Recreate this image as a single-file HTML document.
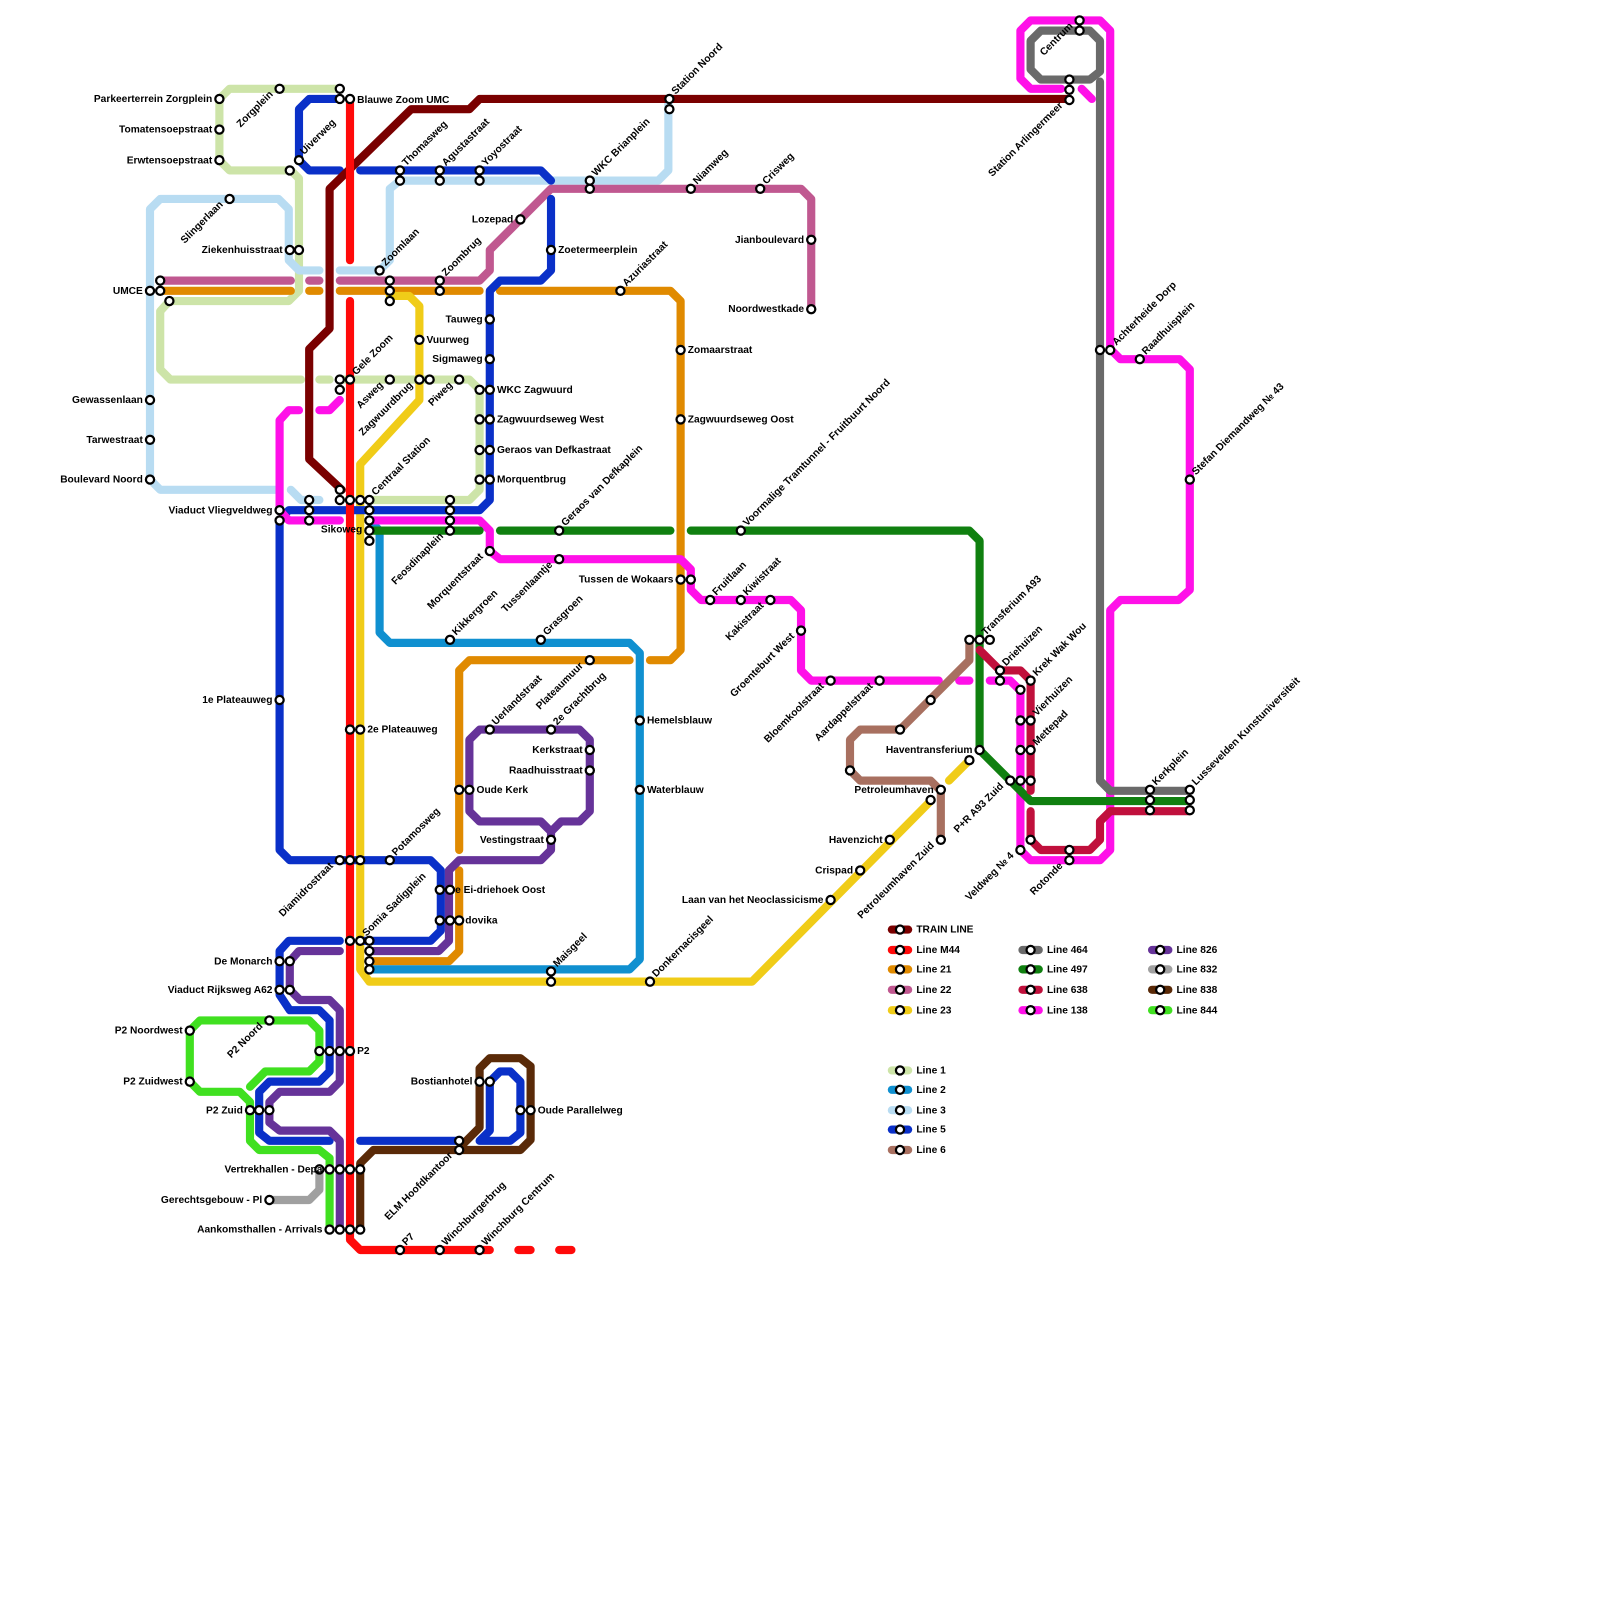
<!DOCTYPE html>
<html><head><meta charset="utf-8"><style>
html,body{margin:0;padding:0;background:#fff}
svg{display:block}
.l{fill:none;stroke-width:8;stroke-linejoin:round;stroke-linecap:round}
.s{fill:#fff;stroke:#000;stroke-width:2.2}
text{font-family:"Liberation Sans",sans-serif;font-size:10px;font-weight:bold;fill:#000}
.e{text-anchor:end}
</style></head><body>
<svg width="1600" height="1600" viewBox="0 0 1568 1568" xmlns="http://www.w3.org/2000/svg">
<!-- Line 1 light green -->
<g class="l" stroke="#cde4a8">
<polyline points="333,87 225,87 215,97 215,157 225,167 285,167 293,175 293,285 283,295 166,295 157,305 157,362 167,372 295,372"/>
<polyline points="313,372 323,372"/>
<polyline points="333,372 460,372 470,382 470,480 460,490 362,490"/>
</g>
<!-- Line 3 light blue -->
<g class="l" stroke="#b8dcf2">
<polyline points="147,470 147,205 157,195 273,195 283,205 283,255 293,265 313,265"/>
<polyline points="333,265 372,265 382,255 382,185 392,177 645,177 655,167 655,97"/>
<polyline points="147,470 157,480 273,480"/>
<polyline points="285,480 295,490 313,490"/>
</g>
<!-- Line 22 -->
<g class="l" stroke="#c05890">
<polyline points="160,275 285,275"/><polyline points="303,275 313,275"/>
<polyline points="333,275 470,275 480,265 480,245 540,185 785,185 795,195 795,303"/>
</g>
<!-- Line 21 orange -->
<g class="l" stroke="#e08a00">
<polyline points="160,285 285,285"/><polyline points="303,285 313,285"/>
<polyline points="333,285 470,285"/>
<polyline points="490,285 657,285 667,295 667,637 657,647 637,647"/>
<polyline points="617,647 460,647 450,657 450,833"/>
<polyline points="450,853 450,932 440,942 362,942"/>
</g>
<!-- Line 2 cyan -->
<polyline class="l" stroke="#1090d0" points="362,510 372,520 372,620 382,630 617,630 627,640 627,940 617,950 362,950"/>
<!-- Line 23 yellow -->
<g class="l" stroke="#f0cc18">
<polyline points="382,290 401,290 411,300 411,392 353,455 353,950 362,962 737,962 912,785"/>
<polyline points="930,765 950,745"/>
</g>
<!-- Line 5 blue -->
<g class="l" stroke="#0a30c8">
<polyline points="333,97 303,97 293,107 293,157 303,167 333,167"/>
<polyline points="353,167 530,167 540,177"/>
<polyline points="540,195 540,265 530,275 490,275 480,285 480,490 470,500 283,500 274,510 274,833 284,843 422,843 432,853 432,912 422,922 353,922"/>
<polyline points="333,922 283,922 274,932 274,975 284,990 313,990 323,1000 323,1050 313,1060 264,1060 254,1070 254,1110 264,1118 323,1118"/>
<polyline points="353,1118 450,1118"/>
<polyline points="470,1118 480,1108 480,1060 490,1050 500,1050 510,1060 510,1110 500,1118 470,1118"/>
</g>
<!-- Line 138 magenta -->
<g class="l" stroke="#ff10e8">
<polyline points="333,392 323,402 313,402"/>
<polyline points="293,402 283,402 274,412 274,500 283,510 333,510"/>
<polyline points="362,510 470,510 480,520 480,540 490,548 667,548 677,558 677,578 687,588 775,588 785,598 785,657 795,667 920,667"/>
<polyline points="940,667 950,667"/>
<polyline points="970,667 990,667 1000,677 1000,833 1010,843 1078,843 1088,833 1088,598 1098,588 1155,588 1166,578 1166,362 1156,352 1098,352 1088,342 1088,30 1078,20 1010,20 1000,30 1000,77 1010,87 1040,87"/>
<polyline points="1060,87 1070,97"/>
</g>
<!-- Line 464 gray -->
<g class="l" stroke="#6a6a6a">
<polyline points="1078,80 1078,765 1088,775 1166,775"/>
<polyline points="1020,30 1068,30 1078,40 1078,70 1068,78 1020,78 1010,68 1010,40 1020,30"/>
</g>
<!-- Line 497 green -->
<g class="l" stroke="#108010">
<polyline points="362,520 470,520"/><polyline points="490,520 657,520"/>
<polyline points="677,520 950,520 960,530 960,735 1010,785 1166,785"/>
</g>
<!-- Line 638 crimson -->
<g class="l" stroke="#c0103c">
<polyline points="960,637 980,657 1000,657 1010,667 1010,775"/>
<polyline points="1010,795 1010,823 1020,833 1068,833 1078,823 1078,805 1088,795 1166,795"/>
</g>
<!-- Line 6 -->
<polyline class="l" stroke="#a87060" points="950,627 950,647 882,715 843,715 833,725 833,755 843,765 912,765 922,775 922,823"/>
<!-- Line 826 purple -->
<g class="l" stroke="#663399">
<polyline points="470,715 568,715 578,725 578,795 568,805 550,805 540,815 530,805 470,805 460,795 460,725 470,715"/>
<polyline points="540,815 540,833 530,843 450,843 440,853 440,922 430,932 362,932"/>
<polyline points="333,932 293,932 284,942 284,970 294,980 323,980 333,990 333,1060 323,1070 274,1070 264,1080 264,1100 274,1108 323,1108 333,1118 333,1205"/>
</g>
<!-- Line 844 -->
<polyline class="l" stroke="#40e020" points="323,1205 323,1135 313,1127 254,1127 245,1118 245,1080 235,1070 196,1070 186,1060 186,1010 196,1000 303,1000 313,1010 313,1040 303,1050 260,1050 245,1065"/>
<!-- Line 832 -->
<polyline class="l" stroke="#a0a0a0" points="264,1176 303,1176 313,1166 313,1146"/>
<!-- Line 838 -->
<polyline class="l" stroke="#5a2a08" points="353,1205 353,1140 366,1127 510,1127 520,1117 520,1045 510,1037 480,1037 470,1047 470,1105 455,1120"/>
<!-- Train -->
<polyline class="l" stroke="#7a0000" points="335,480 303,450 303,342 323,322 323,185 403,107 460,107 470,97 1048,97"/>
<!-- M44 red -->
<g class="l" stroke="#ff0a0a">
<polyline points="343,97 343,255"/>
<polyline points="343,295 343,1215 353,1225 480,1225"/>
<polyline points="508,1225 520,1225"/><polyline points="548,1225 560,1225"/>
</g>

<!-- Stations -->
<g class="s">
<circle cx="215" cy="97" r="4"/><circle cx="215" cy="127" r="4"/><circle cx="215" cy="157" r="4"/><circle cx="274" cy="87" r="4"/>
<circle cx="333" cy="87" r="4"/><circle cx="333" cy="97" r="4"/><circle cx="343" cy="97" r="4"/><circle cx="293" cy="157" r="4"/><circle cx="284" cy="167" r="4"/>
<circle cx="225" cy="195" r="4"/><circle cx="284" cy="245" r="4"/><circle cx="293" cy="245" r="4"/>
<circle cx="147" cy="285" r="4"/><circle cx="157" cy="275" r="4"/><circle cx="157" cy="285" r="4"/><circle cx="166" cy="295" r="4"/>
<circle cx="392" cy="167" r="4"/><circle cx="392" cy="177" r="4"/><circle cx="431" cy="167" r="4"/><circle cx="431" cy="177" r="4"/>
<circle cx="470" cy="167" r="4"/><circle cx="470" cy="177" r="4"/><circle cx="578" cy="177" r="4"/><circle cx="578" cy="185" r="4"/>
<circle cx="656" cy="97" r="4"/><circle cx="656" cy="107" r="4"/><circle cx="677" cy="185" r="4"/><circle cx="745" cy="185" r="4"/>
<circle cx="510" cy="215" r="4"/><circle cx="540" cy="245" r="4"/><circle cx="795" cy="235" r="4"/><circle cx="795" cy="303" r="4"/>
<circle cx="372" cy="265" r="4"/><circle cx="382" cy="275" r="4"/><circle cx="382" cy="285" r="4"/><circle cx="382" cy="295" r="4"/>
<circle cx="431" cy="275" r="4"/><circle cx="431" cy="285" r="4"/><circle cx="608" cy="285" r="4"/>
<circle cx="480" cy="313" r="4"/><circle cx="480" cy="352" r="4"/>
<circle cx="470" cy="382" r="4"/><circle cx="480" cy="382" r="4"/><circle cx="470" cy="411" r="4"/><circle cx="480" cy="411" r="4"/>
<circle cx="470" cy="441" r="4"/><circle cx="480" cy="441" r="4"/><circle cx="470" cy="470" r="4"/><circle cx="480" cy="470" r="4"/>
<circle cx="411" cy="333" r="4"/><circle cx="333" cy="372" r="4"/><circle cx="333" cy="382" r="4"/><circle cx="343" cy="372" r="4"/>
<circle cx="382" cy="372" r="4"/><circle cx="411" cy="372" r="4"/><circle cx="421" cy="372" r="4"/><circle cx="450" cy="372" r="4"/>
<circle cx="147" cy="392" r="4"/><circle cx="147" cy="431" r="4"/><circle cx="147" cy="470" r="4"/>
<circle cx="667" cy="343" r="4"/><circle cx="667" cy="411" r="4"/>
<circle cx="274" cy="500" r="4"/><circle cx="274" cy="510" r="4"/><circle cx="303" cy="490" r="4"/><circle cx="303" cy="500" r="4"/><circle cx="303" cy="510" r="4"/>
<circle cx="333" cy="480" r="4"/><circle cx="333" cy="490" r="4"/><circle cx="343" cy="490" r="4"/><circle cx="353" cy="490" r="4"/>
<circle cx="362" cy="490" r="4"/><circle cx="362" cy="500" r="4"/><circle cx="362" cy="510" r="4"/><circle cx="362" cy="520" r="4"/><circle cx="362" cy="530" r="4"/>
<circle cx="441" cy="490" r="4"/><circle cx="441" cy="500" r="4"/><circle cx="441" cy="510" r="4"/><circle cx="441" cy="520" r="4"/>
<circle cx="480" cy="540" r="4"/><circle cx="548" cy="520" r="4"/><circle cx="548" cy="548" r="4"/>
<circle cx="667" cy="568" r="4"/><circle cx="677" cy="568" r="4"/><circle cx="696" cy="588" r="4"/><circle cx="726" cy="588" r="4"/><circle cx="755" cy="588" r="4"/>
<circle cx="726" cy="520" r="4"/><circle cx="785" cy="618" r="4"/>
<circle cx="441" cy="627" r="4"/><circle cx="530" cy="627" r="4"/><circle cx="578" cy="647" r="4"/>
<circle cx="480" cy="715" r="4"/><circle cx="540" cy="715" r="4"/><circle cx="578" cy="735" r="4"/><circle cx="578" cy="755" r="4"/>
<circle cx="450" cy="774" r="4"/><circle cx="460" cy="774" r="4"/><circle cx="540" cy="823" r="4"/>
<circle cx="627" cy="706" r="4"/><circle cx="627" cy="774" r="4"/>
<circle cx="274" cy="686" r="4"/><circle cx="343" cy="715" r="4"/><circle cx="353" cy="715" r="4"/>
<circle cx="333" cy="843" r="4"/><circle cx="343" cy="843" r="4"/><circle cx="353" cy="843" r="4"/><circle cx="382" cy="843" r="4"/>
<circle cx="431" cy="872" r="4"/><circle cx="441" cy="872" r="4"/><circle cx="431" cy="902" r="4"/><circle cx="441" cy="902" r="4"/><circle cx="450" cy="902" r="4"/>
<circle cx="343" cy="922" r="4"/><circle cx="353" cy="922" r="4"/><circle cx="362" cy="922" r="4"/><circle cx="362" cy="932" r="4"/><circle cx="362" cy="942" r="4"/><circle cx="362" cy="950" r="4"/>
<circle cx="274" cy="942" r="4"/><circle cx="284" cy="942" r="4"/><circle cx="274" cy="970" r="4"/><circle cx="284" cy="970" r="4"/>
<circle cx="540" cy="952" r="4"/><circle cx="540" cy="962" r="4"/><circle cx="637" cy="962" r="4"/>
<circle cx="186" cy="1010" r="4"/><circle cx="264" cy="1000" r="4"/><circle cx="186" cy="1060" r="4"/>
<circle cx="313" cy="1030" r="4"/><circle cx="323" cy="1030" r="4"/><circle cx="333" cy="1030" r="4"/><circle cx="343" cy="1030" r="4"/>
<circle cx="245" cy="1088" r="4"/><circle cx="254" cy="1088" r="4"/><circle cx="264" cy="1088" r="4"/>
<circle cx="470" cy="1060" r="4"/><circle cx="480" cy="1060" r="4"/><circle cx="510" cy="1088" r="4"/><circle cx="520" cy="1088" r="4"/>
<circle cx="450" cy="1118" r="4"/><circle cx="450" cy="1127" r="4"/>
<circle cx="313" cy="1146" r="4"/><circle cx="323" cy="1146" r="4"/><circle cx="333" cy="1146" r="4"/><circle cx="343" cy="1146" r="4"/><circle cx="353" cy="1146" r="4"/>
<circle cx="264" cy="1176" r="4"/>
<circle cx="323" cy="1205" r="4"/><circle cx="333" cy="1205" r="4"/><circle cx="343" cy="1205" r="4"/><circle cx="353" cy="1205" r="4"/>
<circle cx="392" cy="1225" r="4"/><circle cx="431" cy="1225" r="4"/><circle cx="470" cy="1225" r="4"/>
<circle cx="814" cy="667" r="4"/><circle cx="862" cy="667" r="4"/><circle cx="912" cy="686" r="4"/><circle cx="882" cy="715" r="4"/><circle cx="833" cy="755" r="4"/>
<circle cx="950" cy="627" r="4"/><circle cx="960" cy="627" r="4"/><circle cx="970" cy="627" r="4"/>
<circle cx="980" cy="657" r="4"/><circle cx="980" cy="667" r="4"/><circle cx="1010" cy="667" r="4"/><circle cx="1000" cy="676" r="4"/>
<circle cx="1000" cy="706" r="4"/><circle cx="1010" cy="706" r="4"/><circle cx="1000" cy="735" r="4"/><circle cx="1010" cy="735" r="4"/>
<circle cx="990" cy="765" r="4"/><circle cx="1000" cy="765" r="4"/><circle cx="1010" cy="765" r="4"/>
<circle cx="1000" cy="833" r="4"/><circle cx="1010" cy="823" r="4"/><circle cx="1048" cy="833" r="4"/><circle cx="1048" cy="843" r="4"/>
<circle cx="960" cy="735" r="4"/><circle cx="950" cy="745" r="4"/><circle cx="922" cy="774" r="4"/><circle cx="912" cy="784" r="4"/><circle cx="922" cy="823" r="4"/>
<circle cx="872" cy="823" r="4"/><circle cx="843" cy="853" r="4"/><circle cx="814" cy="882" r="4"/>
<circle cx="1127" cy="774" r="4"/><circle cx="1127" cy="784" r="4"/><circle cx="1127" cy="794" r="4"/>
<circle cx="1166" cy="774" r="4"/><circle cx="1166" cy="784" r="4"/><circle cx="1166" cy="794" r="4"/>
<circle cx="1078" cy="343" r="4"/><circle cx="1088" cy="343" r="4"/><circle cx="1117" cy="352" r="4"/><circle cx="1166" cy="470" r="4"/>
<circle cx="1058" cy="20" r="4"/><circle cx="1058" cy="30" r="4"/><circle cx="1048" cy="78" r="4"/><circle cx="1048" cy="88" r="4"/><circle cx="1048" cy="98" r="4"/>
</g>

<!-- Horizontal labels -->
<text class="e" x="208" y="100">Parkeerterrein Zorgplein</text>
<text class="e" x="208" y="130">Tomatensoepstraat</text>
<text class="e" x="208" y="160">Erwtensoepstraat</text>
<text x="350" y="101">Blauwe Zoom UMC</text>
<text class="e" x="277" y="248">Ziekenhuisstraat</text>
<text class="e" x="140" y="288">UMCE</text>
<text class="e" x="503" y="218">Lozepad</text>
<text x="547" y="248">Zoetermeerplein</text>
<text class="e" x="788" y="238">Jianboulevard</text>
<text class="e" x="788" y="306">Noordwestkade</text>
<text class="e" x="473" y="316">Tauweg</text>
<text class="e" x="473" y="355">Sigmaweg</text>
<text x="487" y="385">WKC Zagwuurd</text>
<text x="487" y="414">Zagwuurdseweg West</text>
<text x="487" y="444">Geraos van Defkastraat</text>
<text x="487" y="473">Morquentbrug</text>
<text x="418" y="336">Vuurweg</text>
<text class="e" x="140" y="395">Gewassenlaan</text>
<text class="e" x="140" y="434">Tarwestraat</text>
<text class="e" x="140" y="473">Boulevard Noord</text>
<text x="674" y="346">Zomaarstraat</text>
<text x="674" y="414">Zagwuurdseweg Oost</text>
<text class="e" x="267" y="503">Viaduct Vliegveldweg</text>
<text class="e" x="355" y="522">Sikoweg</text>
<text class="e" x="660" y="571">Tussen de Wokaars</text>
<text class="e" x="571" y="738">Kerkstraat</text>
<text class="e" x="571" y="758">Raadhuisstraat</text>
<text x="467" y="777">Oude Kerk</text>
<text class="e" x="533" y="826">Vestingstraat</text>
<text x="634" y="709">Hemelsblauw</text>
<text x="634" y="777">Waterblauw</text>
<text class="e" x="267" y="689">1e Plateauweg</text>
<text x="360" y="718">2e Plateauweg</text>
<text x="446" y="875">e Ei-driehoek Oost</text>
<text x="456" y="905">dovika</text>
<text class="e" x="267" y="945">De Monarch</text>
<text class="e" x="267" y="973">Viaduct Rijksweg A62</text>
<text class="e" x="179" y="1013">P2 Noordwest</text>
<text class="e" x="179" y="1063">P2 Zuidwest</text>
<text x="350" y="1033">P2</text>
<text class="e" x="238" y="1091">P2 Zuid</text>
<text class="e" x="463" y="1063">Bostianhotel</text>
<text x="527" y="1091">Oude Parallelweg</text>
<text class="e" x="316" y="1149">Vertrekhallen - Depa</text>
<text class="e" x="257" y="1179">Gerechtsgebouw - Pl</text>
<text class="e" x="316" y="1208">Aankomsthallen - Arrivals</text>
<text class="e" x="953" y="738">Haventransferium</text>
<text class="e" x="915" y="777">Petroleumhaven</text>
<text class="e" x="865" y="826">Havenzicht</text>
<text class="e" x="836" y="856">Crispad</text>
<text class="e" x="807" y="885">Laan van het Neoclassicisme</text>

<!-- Rotated labels (up-right) -->
<text transform="translate(298,152) rotate(-45)">Uiverweg</text>
<text transform="translate(398,163) rotate(-45)">Thomasweg</text>
<text transform="translate(437,163) rotate(-45)">Agustastraat</text>
<text transform="translate(476,163) rotate(-45)">Yoyostraat</text>
<text transform="translate(584,173) rotate(-45)">WKC Brianplein</text>
<text transform="translate(662,93) rotate(-45)">Station Noord</text>
<text transform="translate(683,181) rotate(-45)">Niamweg</text>
<text transform="translate(751,181) rotate(-45)">Crisweg</text>
<text transform="translate(378,261) rotate(-45)">Zoomlaan</text>
<text transform="translate(437,271) rotate(-45)">Zoombrug</text>
<text transform="translate(614,281) rotate(-45)">Azuriastraat</text>
<text transform="translate(349,368) rotate(-45)">Gele Zoom</text>
<text transform="translate(368,486) rotate(-45)">Centraal Station</text>
<text transform="translate(554,516) rotate(-45)">Geraos van Defkaplein</text>
<text transform="translate(732,516) rotate(-45)">Voormalige Tramtunnel - Fruitbuurt Noord</text>
<text transform="translate(702,584) rotate(-45)">Fruitlaan</text>
<text transform="translate(732,584) rotate(-45)">Kiwistraat</text>
<text transform="translate(447,623) rotate(-45)">Kikkergroen</text>
<text transform="translate(536,623) rotate(-45)">Grasgroen</text>
<text transform="translate(486,711) rotate(-45)">Uerlandstraat</text>
<text transform="translate(546,711) rotate(-45)">2e Grachtbrug</text>
<text transform="translate(388,839) rotate(-45)">Potamosweg</text>
<text transform="translate(359,918) rotate(-45)">Somia Sadigplein</text>
<text transform="translate(546,948) rotate(-45)">Maisgeel</text>
<text transform="translate(643,958) rotate(-45)">Donkernacisgeel</text>
<text transform="translate(398,1221) rotate(-45)">P7</text>
<text transform="translate(437,1221) rotate(-45)">Winchburgerbrug</text>
<text transform="translate(476,1221) rotate(-45)">Winchburg Centrum</text>
<text transform="translate(966,623) rotate(-45)">Transferium A93</text>
<text transform="translate(986,653) rotate(-45)">Driehuizen</text>
<text transform="translate(1016,663) rotate(-45)">Krek Wak Wou</text>
<text transform="translate(1016,702) rotate(-45)">Vierhuizen</text>
<text transform="translate(1016,731) rotate(-45)">Mettepad</text>
<text transform="translate(1133,770) rotate(-45)">Kerkplein</text>
<text transform="translate(1172,770) rotate(-45)">Lusseveld­en Kunstuniversiteit</text>
<text transform="translate(1094,339) rotate(-45)">Achterheide Dorp</text>
<text transform="translate(1123,348) rotate(-45)">Raadhuisplein</text>
<text transform="translate(1172,466) rotate(-45)">Stefan Diemandweg № 43</text>

<!-- Rotated labels (down-left) -->
<text class="e" transform="translate(268,93) rotate(-45)">Zorgplein</text>
<text class="e" transform="translate(219,201) rotate(-45)">Slingerlaan</text>
<text class="e" transform="translate(376,378) rotate(-45)">Asweg</text>
<text class="e" transform="translate(405,378) rotate(-45)">Zagwuurdbrug</text>
<text class="e" transform="translate(444,378) rotate(-45)">Piweg</text>
<text class="e" transform="translate(435,526) rotate(-45)">Feosdinaplein</text>
<text class="e" transform="translate(474,546) rotate(-45)">Morquentstraat</text>
<text class="e" transform="translate(542,554) rotate(-45)">Tussenlaantje</text>
<text class="e" transform="translate(572,653) rotate(-45)">Plateaumuur</text>
<text class="e" transform="translate(749,594) rotate(-45)">Kakistraat</text>
<text class="e" transform="translate(779,624) rotate(-45)">Groenteburt West</text>
<text class="e" transform="translate(808,673) rotate(-45)">Bloemkoolstraat</text>
<text class="e" transform="translate(856,673) rotate(-45)">Aardappelstraat</text>
<text class="e" transform="translate(327,849) rotate(-45)">Diamidrostraat</text>
<text class="e" transform="translate(258,1006) rotate(-45)">P2 Noord</text>
<text class="e" transform="translate(444,1133) rotate(-45)">ELM Hoofdkantoor</text>
<text class="e" transform="translate(916,829) rotate(-45)">Petroleumhaven Zuid</text>
<text class="e" transform="translate(984,771) rotate(-45)">P+R A93 Zuid</text>
<text class="e" transform="translate(994,839) rotate(-45)">Veldweg № 4</text>
<text class="e" transform="translate(1042,849) rotate(-45)">Rotonde</text>
<text class="e" transform="translate(1052,26) rotate(-45)">Centrum</text>
<text class="e" transform="translate(1042,104) rotate(-45)">Station Arlingermeer</text>

<!-- Legend -->
<g>
<g class="l" stroke-width="7">
<line x1="874" y1="911" x2="890" y2="911" stroke="#7a0000"/>
<line x1="874" y1="931" x2="890" y2="931" stroke="#ff0a0a"/>
<line x1="874" y1="950" x2="890" y2="950" stroke="#e08a00"/>
<line x1="874" y1="970" x2="890" y2="970" stroke="#c05890"/>
<line x1="874" y1="990" x2="890" y2="990" stroke="#f0cc18"/>
<line x1="874" y1="1049" x2="890" y2="1049" stroke="#cde4a8"/>
<line x1="874" y1="1068" x2="890" y2="1068" stroke="#1090d0"/>
<line x1="874" y1="1088" x2="890" y2="1088" stroke="#b8dcf2"/>
<line x1="874" y1="1107" x2="890" y2="1107" stroke="#0a30c8"/>
<line x1="874" y1="1127" x2="890" y2="1127" stroke="#a87060"/>
<line x1="1002" y1="931" x2="1018" y2="931" stroke="#6a6a6a"/>
<line x1="1002" y1="950" x2="1018" y2="950" stroke="#108010"/>
<line x1="1002" y1="970" x2="1018" y2="970" stroke="#c0103c"/>
<line x1="1002" y1="990" x2="1018" y2="990" stroke="#ff10e8"/>
<line x1="1129" y1="931" x2="1145" y2="931" stroke="#663399"/>
<line x1="1129" y1="950" x2="1145" y2="950" stroke="#a0a0a0"/>
<line x1="1129" y1="970" x2="1145" y2="970" stroke="#5a2a08"/>
<line x1="1129" y1="990" x2="1145" y2="990" stroke="#40e020"/>
</g>
<g class="s">
<circle cx="882" cy="911" r="4"/><circle cx="882" cy="931" r="4"/><circle cx="882" cy="950" r="4"/><circle cx="882" cy="970" r="4"/><circle cx="882" cy="990" r="4"/>
<circle cx="882" cy="1049" r="4"/><circle cx="882" cy="1068" r="4"/><circle cx="882" cy="1088" r="4"/><circle cx="882" cy="1107" r="4"/><circle cx="882" cy="1127" r="4"/>
<circle cx="1010" cy="931" r="4"/><circle cx="1010" cy="950" r="4"/><circle cx="1010" cy="970" r="4"/><circle cx="1010" cy="990" r="4"/>
<circle cx="1137" cy="931" r="4"/><circle cx="1137" cy="950" r="4"/><circle cx="1137" cy="970" r="4"/><circle cx="1137" cy="990" r="4"/>
</g>
<text x="898" y="914">TRAIN LINE</text><text x="898" y="934">Line M44</text><text x="898" y="953">Line 21</text><text x="898" y="973">Line 22</text><text x="898" y="993">Line 23</text>
<text x="898" y="1052">Line 1</text><text x="898" y="1071">Line 2</text><text x="898" y="1091">Line 3</text><text x="898" y="1110">Line 5</text><text x="898" y="1130">Line 6</text>
<text x="1026" y="934">Line 464</text><text x="1026" y="953">Line 497</text><text x="1026" y="973">Line 638</text><text x="1026" y="993">Line 138</text>
<text x="1153" y="934">Line 826</text><text x="1153" y="953">Line 832</text><text x="1153" y="973">Line 838</text><text x="1153" y="993">Line 844</text>
</g>
</svg>
</body></html>
